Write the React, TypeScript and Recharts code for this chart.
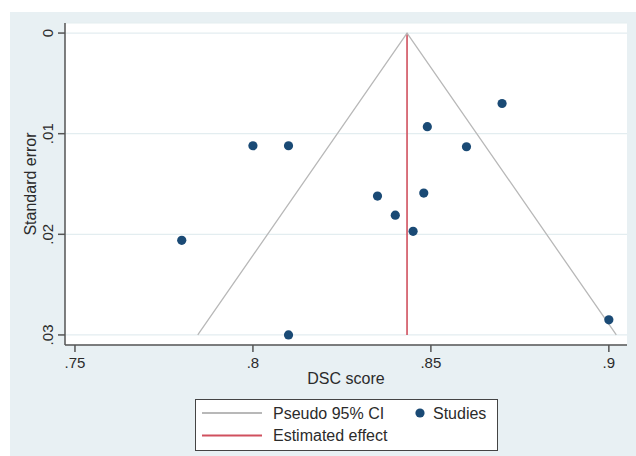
import React from "react";
import {
  ComposedChart,
  Scatter,
  XAxis,
  YAxis,
  CartesianGrid,
  ReferenceLine,
} from "recharts";

// study estimates (DSC) and their standard errors
const studyDsc = [0.8, 0.81, 0.78, 0.81, 0.835, 0.84, 0.845, 0.848, 0.849, 0.86, 0.87, 0.9];
const studySe = [0.0112, 0.0112, 0.0206, 0.03, 0.0162, 0.0181, 0.0197, 0.0159, 0.0093, 0.0113, 0.007, 0.0285];

// pseudo 95% CI funnel (left foot, apex, right foot)
const ciDsc = [0.7845, 0.8433, 0.9021];
const ciSe = [0.03, 0, 0.03];

const pooledEffect = 0.8433;
const xTicks = [0.75, 0.8, 0.85, 0.9];
const yTicks = [0, 0.01, 0.02, 0.03];

const studies = studyDsc.map((x, i) => ({ x, y: studySe[i] }));
const funnel = ciDsc.map((x, i) => ({ x, y: ciSe[i] }));

const font = "'Liberation Sans', Arial, Helvetica, sans-serif";
const textColor = "#2b2b2b";
const axisColor = "#555555";
const navy = "#1a4a75";
const red = "#d0505e";
const ciGray = "#b8b8b8";

const fmt = (v: number) => String(v).replace(/^0\./, ".");

const YTick = (props: any) => {
  const { x, y, payload } = props;
  const bx = x - 5.5;
  return (
    <text
      x={bx}
      y={y}
      transform={`rotate(-90, ${bx}, ${y})`}
      textAnchor="middle"
      fontSize={15}
      fontFamily={font}
      fill={textColor}
    >
      {fmt(payload.value)}
    </text>
  );
};

const Dot = (props: any) => <circle cx={props.cx} cy={props.cy} r={4.6} fill={navy} />;

export default function App() {
  return (
    <div style={{ position: "absolute", left: 0, top: 0, width: 636, height: 456, background: "#fff" }}>
      <div
        style={{ position: "absolute", left: 10, top: 12, width: 626, height: 444, background: "#e8f0f3" }}
      />
      <div style={{ position: "absolute", left: 0, top: 0 }}>
        <ComposedChart
          width={636}
          height={456}
          margin={{ top: 23, right: 9, bottom: 0, left: 0 }}
          style={{ fontFamily: font }}
        >
          <CartesianGrid vertical={false} stroke="#e3edf0" strokeWidth={1.2} fill="#ffffff" />
          <XAxis
            type="number"
            dataKey="x"
            domain={[0.7472, 0.9051]}
            allowDataOverflow
            ticks={xTicks}
            tickFormatter={fmt}
            height={111}
            tickSize={7}
            tickMargin={5}
            stroke={axisColor}
            strokeWidth={1.5}
            tick={{ fontSize: 15, fill: textColor, fontFamily: font }}
            label={{
              value: "DSC score",
              position: "insideTop",
              offset: 28,
              fontSize: 16,
              fill: textColor,
              fontFamily: font,
            }}
          />
          <YAxis
            type="number"
            dataKey="y"
            reversed
            domain={[-0.001, 0.031]}
            allowDataOverflow
            ticks={yTicks}
            width={65}
            tickSize={7}
            tickMargin={0}
            stroke={axisColor}
            strokeWidth={1.5}
            tick={<YTick />}
            label={{
              value: "Standard error",
              angle: -90,
              position: "insideLeft",
              offset: 30,
              fontSize: 16,
              fill: textColor,
              fontFamily: font,
              style: { textAnchor: "middle" },
            }}
          />
          <Scatter
            data={funnel}
            line={{ stroke: ciGray, strokeWidth: 1.3 }}
            lineType="joint"
            shape={() => <g />}
            isAnimationActive={false}
          />
          <ReferenceLine
            segment={[
              { x: pooledEffect, y: 0 },
              { x: pooledEffect, y: 0.03 },
            ]}
            stroke={red}
            strokeWidth={1.6}
          />
          <Scatter data={studies} shape={<Dot />} isAnimationActive={false} />
        </ComposedChart>
      </div>
      <div
        style={{
          position: "absolute",
          left: 195,
          top: 399,
          width: 303,
          height: 52,
          boxSizing: "border-box",
          border: "1.5px solid #444",
          background: "#fff",
        }}
      >
        <svg width={300} height={49} style={{ display: "block" }}>
          <line x1={6} x2={66} y1={13} y2={13} stroke={ciGray} strokeWidth={2} />
          <text x={77} y={19} fontSize={16} fontFamily={font} fill={textColor}>
            Pseudo 95% CI
          </text>
          <circle cx={224} cy={13} r={4.6} fill={navy} />
          <text x={237} y={19} fontSize={16} fontFamily={font} fill={textColor}>
            Studies
          </text>
          <line x1={6} x2={66} y1={35.5} y2={35.5} stroke={red} strokeWidth={2} />
          <text x={77} y={41} fontSize={16} fontFamily={font} fill={textColor}>
            Estimated effect
          </text>
        </svg>
      </div>
    </div>
  );
}
